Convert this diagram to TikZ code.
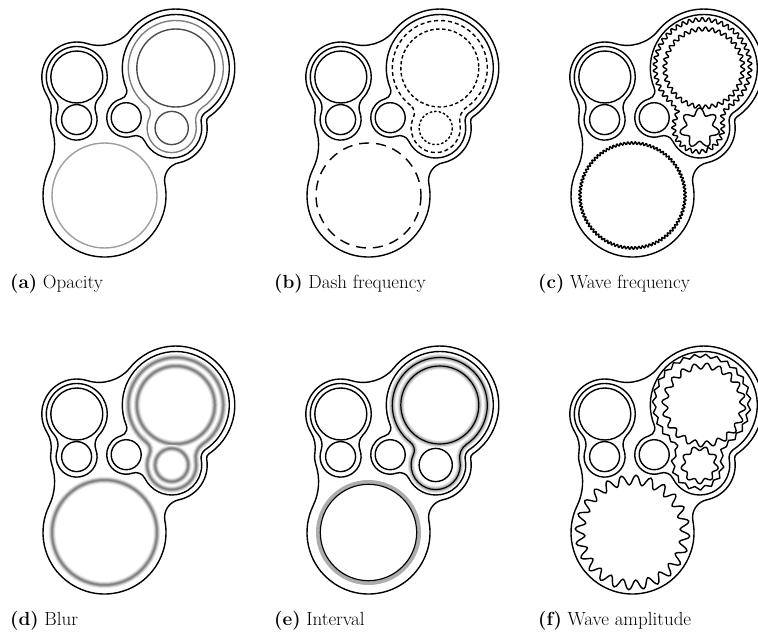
\documentclass[tikz,border=0pt]{standalone}
\usepackage{fontspec}
\usetikzlibrary{decorations.pathmorphing}
\makeatletter
% circle centres (px, y downwards)
\def\Ax{76.8}\def\Ay{77}
\def\Bx{76.6}\def\By{119.6}
\def\Cx{126.2}\def\Cy{117.7}
\def\Dx{175.8}\def\Dy{68}
\def\Ex{171.7}\def\Ey{128}
\def\Fx{104.5}\def\Fy{195.5}
% fillet between circle #2 (radius #4) and circle #3 (radius #5), fillet radius #6
\newcommand\mkfillet[6]{%
  \edef\rk@px{\csname #2x\endcsname}\edef\rk@py{\csname #2y\endcsname}%
  \edef\rk@rx{\csname #3x\endcsname}\edef\rk@ry{\csname #3y\endcsname}%
  \pgfmathsetmacro\rk@dx{(\rk@rx)-(\rk@px)}%
  \pgfmathsetmacro\rk@dy{(\rk@ry)-(\rk@py)}%
  \pgfmathsetmacro\rk@d{sqrt((\rk@dx)*(\rk@dx)+(\rk@dy)*(\rk@dy))}%
  \pgfmathsetmacro\rk@a{#4+#6}%
  \pgfmathsetmacro\rk@b{#5+#6}%
  \pgfmathsetmacro\rk@x{((\rk@a-\rk@b)*(\rk@a+\rk@b)+\rk@d*\rk@d)/(2*\rk@d)}%
  \pgfmathsetmacro\rk@h{sqrt((\rk@a-(\rk@x))*(\rk@a+(\rk@x)))}%
  \pgfmathsetmacro\rk@qx{\rk@px+((\rk@x)*(\rk@dx)+(\rk@h)*(\rk@dy))/\rk@d}%
  \pgfmathsetmacro\rk@qy{\rk@py+((\rk@x)*(\rk@dy)-(\rk@h)*(\rk@dx))/\rk@d}%
  \pgfmathsetmacro\rk@ta{atan2((\rk@qy)-(\rk@py),(\rk@qx)-(\rk@px))}%
  \pgfmathsetmacro\rk@tb{atan2((\rk@qy)-(\rk@ry),(\rk@qx)-(\rk@rx))}%
  \expandafter\xdef\csname fta#1\endcsname{\rk@ta}%
  \expandafter\xdef\csname ftb#1\endcsname{\rk@tb}%
  \expandafter\xdef\csname fsr#1\endcsname{#6}%
}
\newcommand\pstart[4]{%
  \edef\rk@t{\csname ftb#4\endcsname}%
  \edef\rk@cx{\csname #2x\endcsname}\edef\rk@cy{\csname #2y\endcsname}%
  \pgfmathsetmacro\rk@sx{\rk@cx+#3*cos(\rk@t)}%
  \pgfmathsetmacro\rk@sy{\rk@cy+#3*sin(\rk@t)}%
  \expandafter\xdef\csname #1\endcsname{(\rk@sx,\rk@sy)}%
}
\newcommand\pseg[5]{%
  \edef\rk@s{\csname ftb#4\endcsname}%
  \edef\rk@e{\csname fta#5\endcsname}%
  \pgfmathsetmacro\rk@e{ifthenelse((\rk@e)<(\rk@s),(\rk@e)+360,(\rk@e))}%
  \pgfmathsetmacro\rk@fs{(\csname fta#5\endcsname)+180}%
  \pgfmathsetmacro\rk@fe{(\csname ftb#5\endcsname)+180}%
  \pgfmathsetmacro\rk@fe{ifthenelse((\rk@fe)>(\rk@fs),(\rk@fe)-360,(\rk@fe))}%
  \edef\rk@r{\csname fsr#5\endcsname}%
  \expandafter\xdef\csname #1\endcsname{\csname #1\endcsname\space arc[start angle=\rk@s,end angle=\rk@e,radius=#3] arc[start angle=\rk@fs,end angle=\rk@fe,radius=\rk@r]}%
}
\newcommand\pclose[1]{\expandafter\xdef\csname #1\endcsname{\csname #1\endcsname\space -- cycle}}
% wavy circle: cx, cy, r, number of waves, amplitude
\newcommand\wavy[5]{%
  \pgfmathtruncatemacro\rk@N{#4*8}%
  \pgfmathtruncatemacro\rk@M{\rk@N-1}%
  \draw[ln] plot[smooth cycle, samples=\rk@N, domain=0:\rk@M]
    ({#1+(#3+#5*sin(mod(\x,8)*45))*cos(\x/\rk@N*360)},{#2+(#3+#5*sin(mod(\x,8)*45))*sin(\x/\rk@N*360)});}
\makeatother

% ---- contours ----
\mkfillet{abR}{A}{B}{30.5}{20.5}{14}
\mkfillet{abL}{B}{A}{20.5}{30.5}{16}
\pstart{pAB}{A}{30.5}{abL}
\pseg{pAB}{A}{30.5}{abL}{abR}
\pseg{pAB}{B}{20.5}{abR}{abL}
\pclose{pAB}

\mkfillet{deR}{D}{E}{47.5}{24.6}{16}
\mkfillet{deL}{E}{D}{24.6}{47.5}{10}
\pstart{pDE}{D}{47.5}{deL}
\pseg{pDE}{D}{47.5}{deL}{deR}
\pseg{pDE}{E}{24.6}{deR}{deL}
\pclose{pDE}

\mkfillet{cR}{D}{E}{53.5}{30}{10}
\mkfillet{cB}{E}{C}{30}{19.5}{10}
\mkfillet{cL}{C}{D}{19.5}{53.5}{8}
\pstart{pCDE}{D}{53.5}{cL}
\pseg{pCDE}{D}{53.5}{cL}{cR}
\pseg{pCDE}{E}{30}{cR}{cB}
\pseg{pCDE}{C}{19.5}{cB}{cL}
\pclose{pCDE}

\mkfillet{oT}{A}{D}{35}{59}{40}
\mkfillet{oR}{D}{E}{59}{35.5}{5}
\mkfillet{oEF}{E}{F}{35.5}{61.5}{18}
\mkfillet{oFB}{F}{B}{61.5}{26}{55}
\mkfillet{oL}{B}{A}{26}{35}{30}
\pstart{pOut}{A}{35}{oL}
\pseg{pOut}{A}{35}{oL}{oT}
\pseg{pOut}{D}{59}{oT}{oR}
\pseg{pOut}{E}{35.5}{oR}{oEF}
\pseg{pOut}{F}{61.5}{oEF}{oFB}
\pseg{pOut}{B}{26}{oFB}{oL}
\pclose{pOut}

\def\cD{(\Dx,\Dy) circle[radius=39]}
\def\cE{(\Ex,\Ey) circle[radius=16.6]}
\def\cF{(\Fx,\Fy) circle[radius=52.5]}

\tikzset{
  ln/.style={line width=1.4pt, black, line join=round},
  lbl/.style={anchor=base west, inner sep=0pt, font=\fontsize{19}{23}\selectfont},
}
\newcommand\commonparts{%
  \draw[ln] \pOut;
  \draw[ln] \pAB;
  \draw[ln] \pCDE;
  \draw[ln] (\Ax,\Ay) circle[radius=26];
  \draw[ln] (\Bx,\By) circle[radius=15];
  \draw[ln] (\Cx,\Cy) circle[radius=15];}
\newcommand\blurdraw[1]{%
  \foreach \w/\c in {7pt/5,6pt/10,5pt/16,4pt/24,3pt/33,2pt/42,1pt/50}{\draw[line width=\w, black!\c] #1;}}
\newcommand\halodraw[1]{%
  \foreach \w/\c in {7pt/7,5.6pt/14,4.2pt/23,3pt/32}{\draw[line width=\w, black!\c] #1;}%
  \draw[line width=1.2pt, black] #1;}

\begin{document}
\begin{tikzpicture}[x=1pt, y=-1pt]
\useasboundingbox (0,0) rectangle (758,635);

% (a) Opacity
\begin{scope}
  \draw[ln, black!70] \cD;
  \draw[ln, black!70] \cE;
  \draw[ln, black!50] \pDE;
  \draw[ln, black!38] \cF;
  \commonparts
  \node[lbl] (la) at (10,288) {\textbf{(a)} Opacity};
\end{scope}

% (b) Dash frequency
\begin{scope}[shift={(264,0)}]
  \draw[ln, dash pattern=on 3.5pt off 2.5pt] \cD;
  \draw[ln, dash pattern=on 2.5pt off 2pt] \cE;
  \draw[ln, dash pattern=on 4pt off 3pt] \pDE;
  \draw[ln, dash pattern=on 10pt off 7pt] \cF;
  \commonparts
  \node[lbl] (lb) at (10,288) {\textbf{(b)} Dash frequency};
\end{scope}

% (c) Wave frequency
\begin{scope}[shift={(528,0)}]
  \wavy{\Dx}{\Dy}{39}{36}{2}
  \wavy{\Ex}{\Ey}{16.6}{7}{3.5}
  \wavy{\Fx}{\Fy}{52.5}{90}{1.3}
  \draw[ln, decorate, decoration={snake, segment length=6.5pt, amplitude=2pt}] \pDE;
  \commonparts
  \node[lbl] (lc) at (10,288) {\textbf{(c)} Wave frequency};
\end{scope}

% (d) Blur
\begin{scope}[shift={(0,337)}]
  \blurdraw{\cD}
  \blurdraw{\cE}
  \blurdraw{\pDE}
  \blurdraw{\cF}
  \commonparts
  \node[lbl] (ld) at (10,288) {\textbf{(d)} Blur};
\end{scope}

% (e) Interval
\begin{scope}[shift={(264,337)}]
  \halodraw{\cD}
  \halodraw{\pDE}
  \draw[ln] \cE;
  \draw[line width=3.8pt, black!32] (\Fx,\Fy) circle[radius=50.6];
  \draw[line width=1.2pt, black] (\Fx,\Fy) circle[radius=48.2];
  \commonparts
  \node[lbl] (le) at (10,288) {\textbf{(e)} Interval};
\end{scope}

% (f) Wave amplitude
\begin{scope}[shift={(528,337)}]
  \wavy{\Dx}{\Dy}{39}{20}{3}
  \wavy{\Ex}{\Ey}{16.6}{9}{2.2}
  \wavy{\Fx}{\Fy}{52.5}{24}{5}
  \draw[ln, decorate, decoration={snake, segment length=11pt, amplitude=1.8pt}] \pDE;
  \commonparts
  \node[lbl] (lf) at (10,288) {\textbf{(f)} Wave amplitude};
\end{scope}
\end{tikzpicture}
\end{document}
